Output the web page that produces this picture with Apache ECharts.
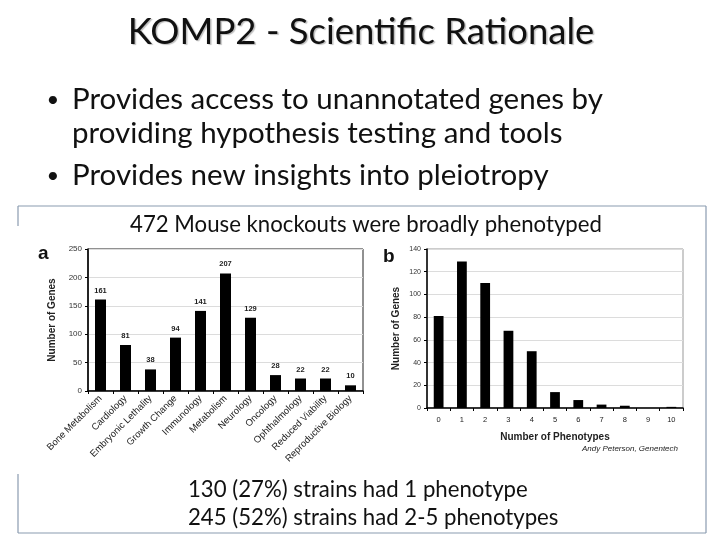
<!DOCTYPE html>
<html>
<head>
<meta charset="utf-8">
<script src="https://cdn.jsdelivr.net/npm/echarts@6/dist/echarts.min.js"></script>
<style>
  html, body { margin: 0; padding: 0; background: #fff; }
  #chart { width: 720px; height: 540px; }
</style>
</head>
<body>
<div id="chart"></div>
<script>
// panel a: phenotype categories
const categoriesA = ['Bone Metabolism', 'Cardiology', 'Embryonic Lethality', 'Growth Change',
    'Immunology', 'Metabolism', 'Neurology', 'Oncology', 'Ophthalmology',
    'Reduced Viability', 'Reproductive Biology'];
const genesA = [161, 81, 38, 94, 141, 207, 129, 28, 22, 22, 10];

// panel b: number of phenotypes per gene
const categoriesB = ['0', '1', '2', '3', '4', '5', '6', '7', '8', '9', '10'];
const genesB = [81, 129, 110, 68, 50, 14, 7, 3, 2, 0, 1];

const slideFont = 'Lato';
const chartFont = 'Liberation Sans';

const chart = echarts.init(document.getElementById('chart'));

// slide frame around the figure
const frameColor = '#8a9bb0';
const frameLines = [
    [[18, 206], [706, 206]],
    [[706, 206], [706, 533]],
    [[18, 533], [706, 533]],
    [[18, 206], [18, 226]],
    [[18, 474], [18, 533]]
].map(pts => ({
    type: 'polyline',
    shape: { points: pts },
    style: { stroke: frameColor, lineWidth: 1.2, fill: null }
}));

const textEl = (text, x, y, size, opts) => ({
    type: 'text',
    x: x, y: y,
    style: Object.assign({
        text: text,
        font: size + 'px ' + slideFont,
        fill: '#111',
        textVerticalAlign: 'middle'
    }, opts || {})
});

const option = {
    backgroundColor: '#fff',
    animation: false,
    graphic: frameLines.concat([
        textEl('KOMP2 - Scientific Rationale', 361, 32, 36.5, {
            textAlign: 'center', textShadowColor: 'rgba(0,0,0,0.25)',
            textShadowOffsetX: 1.5, textShadowOffsetY: 1.5, textShadowBlur: 1
        }),
        textEl('•', 53, 100, 22, { textAlign: 'center' }),
        textEl('Provides access to unannotated genes by', 72, 99, 29.5),
        textEl('providing hypothesis testing and tools', 72, 133, 29.5),
        textEl('•', 53, 176, 22, { textAlign: 'center' }),
        textEl('Provides new insights into pleiotropy', 72, 175, 29.5),
        textEl('472 Mouse knockouts were broadly phenotyped', 366, 225, 22.2, { textAlign: 'center' }),
        textEl('130 (27%) strains had 1 phenotype', 188, 490, 22.2),
        textEl('245 (52%) strains had 2-5 phenotypes', 188, 518, 22.2),
        textEl('a', 38, 254, 19, { font: 'bold 19px ' + chartFont }),
        textEl('b', 383, 257, 19, { font: 'bold 19px ' + chartFont }),
        textEl('Andy Peterson, Genentech', 678, 449, 8, { textAlign: 'right', font: 'italic 8px ' + chartFont, fill: '#222' })
    ]),
    grid: [
        { left: 88, top: 249, width: 275, height: 142, show: true, borderColor: '#222', borderWidth: 1 },
        { left: 427, top: 249, width: 256, height: 159, show: true, borderColor: '#999', borderWidth: 1 }
    ],
    xAxis: [
        {
            gridIndex: 0,
            type: 'category',
            data: categoriesA,
            axisLine: { lineStyle: { color: '#000', width: 1.5 } },
            axisTick: { show: true, length: 3, lineStyle: { color: '#000' } },
            axisLabel: {
                rotate: 45, interval: 0, margin: 6,
                fontFamily: chartFont, fontSize: 9.5, color: '#222'
            }
        },
        {
            gridIndex: 1,
            type: 'category',
            data: categoriesB,
            name: 'Number of Phenotypes',
            nameLocation: 'middle',
            nameGap: 24,
            nameTextStyle: { fontFamily: chartFont, fontWeight: 'bold', fontSize: 10, color: '#222' },
            axisLine: { lineStyle: { color: '#000', width: 1.5 } },
            axisTick: { show: true, length: 3, lineStyle: { color: '#000' } },
            axisLabel: { interval: 0, margin: 8, fontFamily: chartFont, fontSize: 7.5, color: '#222' }
        }
    ],
    yAxis: [
        {
            gridIndex: 0,
            type: 'value',
            min: 0, max: 250, interval: 50,
            name: 'Number of Genes',
            nameLocation: 'middle',
            nameGap: 31,
            nameTextStyle: { fontFamily: chartFont, fontWeight: 'bold', fontSize: 10, color: '#222' },
            axisLine: { show: true, lineStyle: { color: '#000', width: 1.5 } },
            axisTick: { show: true, length: 3, lineStyle: { color: '#000' } },
            axisLabel: { margin: 6, fontFamily: chartFont, fontSize: 8, color: '#333' },
            splitLine: { lineStyle: { color: '#dcdcdc' } }
        },
        {
            gridIndex: 1,
            type: 'value',
            min: 0, max: 140, interval: 20,
            name: 'Number of Genes',
            nameLocation: 'middle',
            nameGap: 26,
            nameTextStyle: { fontFamily: chartFont, fontWeight: 'bold', fontSize: 10, color: '#222' },
            axisLine: { show: true, lineStyle: { color: '#000', width: 1.5 } },
            axisTick: { show: true, length: 3, lineStyle: { color: '#000' } },
            axisLabel: { margin: 6, fontFamily: chartFont, fontSize: 7, color: '#333' },
            splitLine: { lineStyle: { color: '#dcdcdc' } }
        }
    ],
    series: [
        {
            type: 'bar',
            xAxisIndex: 0, yAxisIndex: 0,
            data: genesA,
            barWidth: '44%',
            itemStyle: { color: '#000' },
            label: {
                show: true, position: 'top', distance: 5,
                fontFamily: chartFont, fontWeight: 'bold', fontSize: 7.5, color: '#222'
            }
        },
        {
            type: 'bar',
            xAxisIndex: 1, yAxisIndex: 1,
            data: genesB,
            barWidth: '42%',
            itemStyle: { color: '#000' }
        }
    ]
};

chart.setOption(option);
</script>
</body>
</html>
